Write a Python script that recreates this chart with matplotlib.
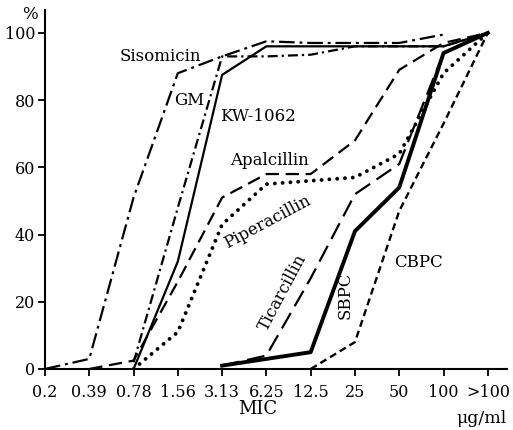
import numpy as np
import matplotlib
matplotlib.use("Agg")
import matplotlib.pyplot as plt

nan = np.nan
categories = ["0.2", "0.39", "0.78", "1.56", "3.13", "6.25", "12.5", "25", "50", "100", ">100"]
yticks = [0, 20, 40, 60, 80, 100]

sisomicin    = [0, 3, 51, 88, 93, 97.5, 97, 97, 97, 99.5, nan]
gm           = [nan, nan, 2, 48, 93, 93, 93.5, 96, 96, 96, 100]
kw1062       = [nan, nan, 0, 32, 87.5, 96, 96, 96, 96, 96, 100]
apalcillin   = [nan, 0, 2.5, 26, 51, 58, 58, 68, 89, 97, 100]
piperacillin = [nan, nan, 0, 11, 43, 55, 56, 57, 64, 88, 100]
ticarcillin  = [nan, nan, nan, nan, 1, 4, 27, 52, 61, 94, 100]
sbpc         = [nan, nan, nan, nan, 1, 3, 5, 41, 54, 94, 100]
cbpc         = [nan, nan, nan, nan, nan, nan, 0, 8, 47, 73, 100]

plt.rcParams['font.family'] = ['DejaVu Serif']
fig = plt.figure(figsize=(5.13, 4.30), dpi=100)
ax = fig.add_axes([0.0877, 0.1419, 0.9003, 0.8348])
x = np.arange(len(categories))
k = 'black'

ax.plot(x, sisomicin, color=k, lw=1.6, dashes=(7, 2.2, 1.3, 2.2))
ax.plot(x, gm, color=k, lw=1.6, dashes=(4.5, 1.8, 1.0, 1.8))
ax.plot(x, kw1062, color=k, lw=1.6)
ax.plot(x, apalcillin, color=k, lw=1.6, dashes=(6, 3))
ax.plot(x, piperacillin, color=k, lw=2.8, dashes=(0.01, 2.0), dash_capstyle='round')
ax.plot(x, ticarcillin, color=k, lw=1.6, dashes=(8, 3.5))
ax.plot(x, sbpc, color=k, lw=2.8)
ax.plot(x, cbpc, color=k, lw=1.7, dashes=(3, 1.8))

ax.set_xlim(0, 10.43)
ax.set_ylim(0, 106.8)
ax.set_xticks(x)
ax.set_xticklabels(categories)
ax.set_yticks(yticks)
ax.set_yticklabels([str(v) for v in yticks])
ax.tick_params(axis='both', direction='out', length=5, width=1.3, labelsize=11.5, color=k, labelcolor=k)
ax.tick_params(axis='x', pad=6)
ax.tick_params(axis='y', pad=2)
for s in ['top', 'right']:
    ax.spines[s].set_visible(False)
for s in ['left', 'bottom']:
    ax.spines[s].set_linewidth(1.5)

fs = 12
ax.text(2.6, 92.9, "Sisomicin", fontsize=fs, ha='center', va='center')
ax.text(3.25, 79.8, "GM", fontsize=fs, ha='center', va='center')
ax.text(4.81, 75, "KW-1062", fontsize=fs, ha='center', va='center')
ax.text(5.08, 61.9, "Apalcillin", fontsize=fs, ha='center', va='center')
ax.text(5.03, 43.7, "Piperacillin", fontsize=fs, ha='center', va='center', rotation=28, rotation_mode='anchor')
ax.text(5.37, 22.6, "Ticarcillin", fontsize=fs, ha='center', va='center', rotation=62, rotation_mode='anchor')
ax.text(6.77, 22, "SBPC", fontsize=fs, ha='center', va='center', rotation=90, rotation_mode='anchor')
ax.text(8.44, 31.8, "CBPC", fontsize=fs, ha='center', va='center')
ax.text(-0.34, 105.4, "%", fontsize=12, ha='center', va='center', clip_on=False)
ax.text(4.81, -11.8, "MIC", fontsize=13, ha='center', va='center', clip_on=False)
ax.text(9.3, -14.6, "μg/ml", fontsize=12.5, ha='left', va='center', clip_on=False)

fig.savefig("out.png", dpi=100)
